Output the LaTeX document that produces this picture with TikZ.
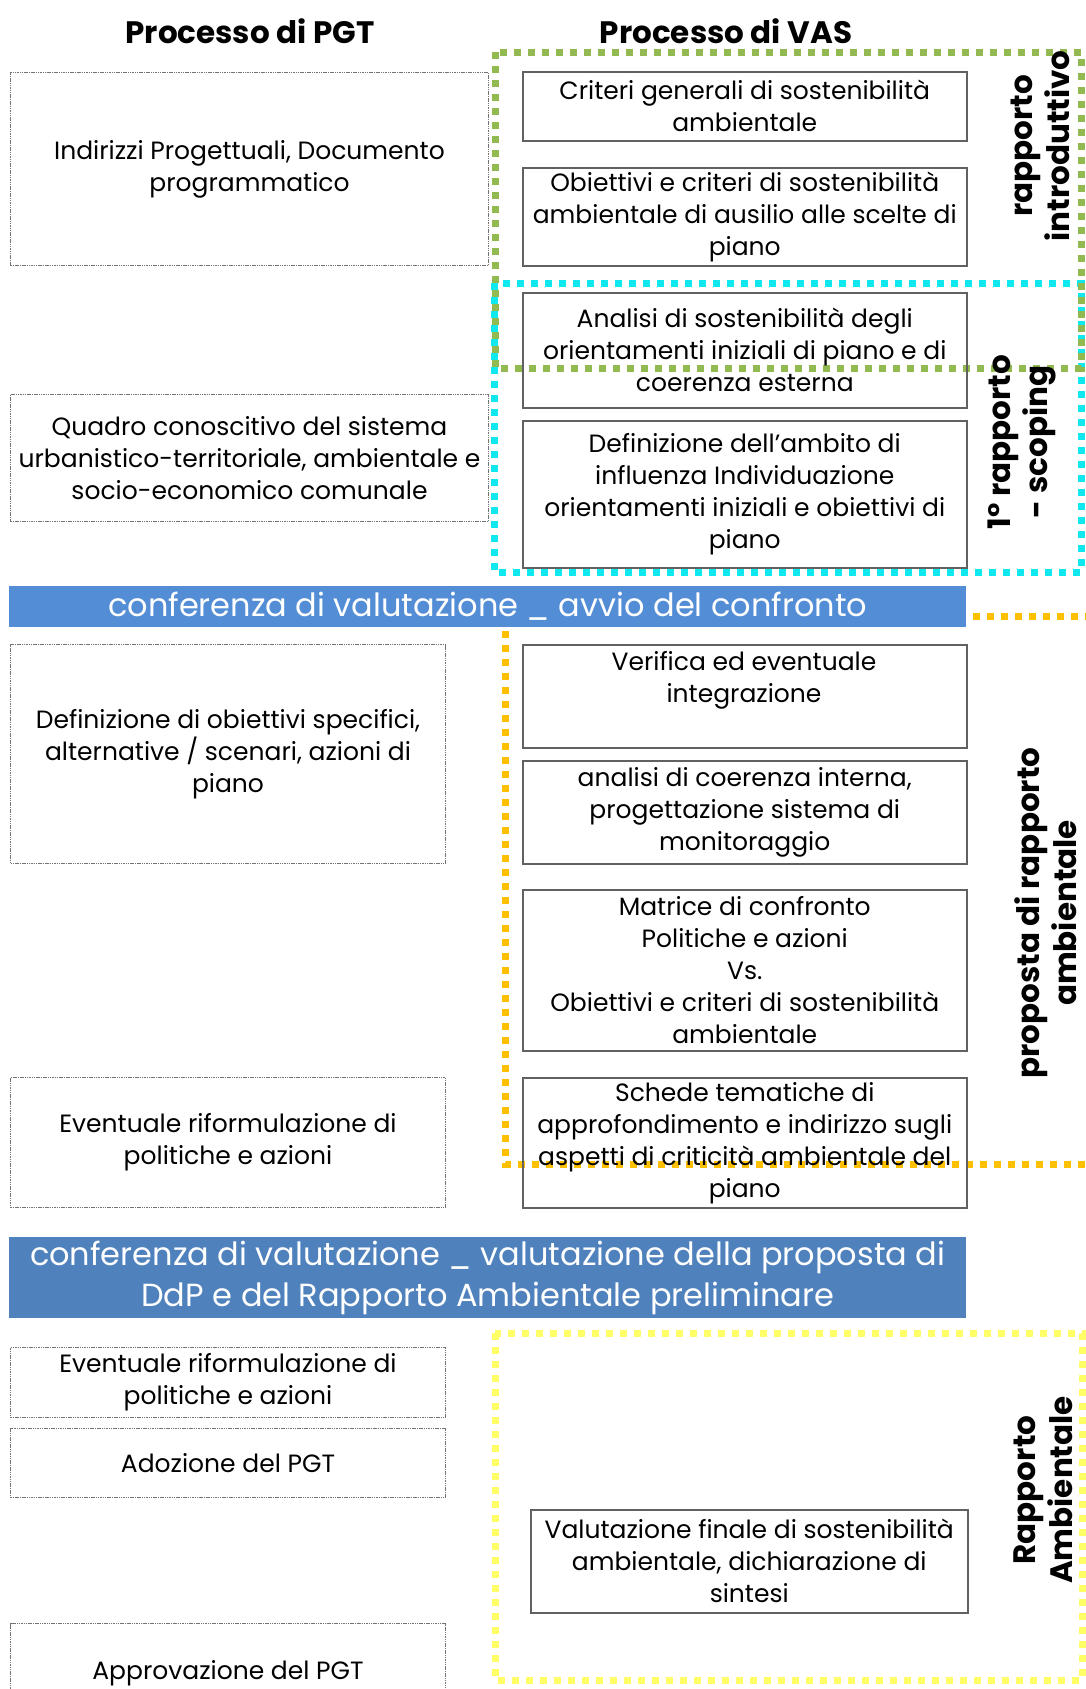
\documentclass[tikz,border=0pt]{standalone}
\usepackage{fontspec}
\setmainfont{Poppins}
\definecolor{grn}{HTML}{92BA50}
\definecolor{cyn}{HTML}{10E8F0}
\definecolor{org}{HTML}{FFC000}
\definecolor{ylw}{HTML}{FFFF66}
\definecolor{blueA}{HTML}{538DD5}
\definecolor{blueB}{HTML}{4F81BD}
\begin{document}
\begin{tikzpicture}[x=1pt,y=-1pt,
  txt/.style={align=center, font=\fontsize{25}{32}\selectfont, inner sep=0pt},
  lbox/.style={txt, draw=black!55, line width=1pt, dash pattern=on 1.5pt off 0.8pt, anchor=north west},
  rbox/.style={txt, draw=black!62, line width=1.5pt, anchor=north west},
  frameline/.style={line width=7pt, dash pattern=on 7pt off 7pt, line cap=butt},
  bar/.style={anchor=north west, inner sep=0pt, text=white, align=center, font=\fontsize{32}{41}\selectfont},
  ttl/.style={font=\fontsize{31}{36}\selectfont\bfseries},
  vlab/.style={rotate=90, align=center, font=\fontsize{31}{37}\selectfont\bfseries}]
\useasboundingbox (0,0) rectangle (1086,1689);
\clip (0,0) rectangle (1086,1689);
\fill[white] (0,0) rectangle (1086,1689);

% dashed frames
\draw[frameline, cyn] (494,283) rectangle (1081,572);
\draw[frameline, grn] (495,52) rectangle (1081,368);
\draw[frameline, org] (1120,616) -- (505,616) -- (505,1164) -- (1120,1164);
\draw[frameline, ylw] (495,1333) rectangle (1082,1680);

% titles
\node[ttl] (T1) at (250,31) {Processo di PGT};
\node[ttl] (T2) at (726,31) {Processo di VAS};

% left column
\node[lbox, minimum width=478pt, minimum height=193pt] (L1) at (10,72) {Indirizzi Progettuali, Documento\\programmatico};
\node[lbox, minimum width=478pt, minimum height=127pt] (L2) at (10,394) {Quadro conoscitivo del sistema\\urbanistico-territoriale, ambientale e\\socio-economico comunale};
\node[lbox, minimum width=435pt, minimum height=219pt] (L3) at (10,644) {Definizione di obiettivi specifici,\\alternative / scenari, azioni di\\piano};
\node[lbox, minimum width=435pt, minimum height=130pt] (L4) at (10,1077) {Eventuale riformulazione di\\politiche e azioni};
\node[lbox, minimum width=435pt, minimum height=70pt] (L5) at (10,1347) {Eventuale riformulazione di\\politiche e azioni};
\node[lbox, minimum width=435pt, minimum height=69pt] (L6) at (10,1428) {Adozione del PGT};
\node[lbox, minimum width=435pt, minimum height=99pt] (L7) at (10,1623) {Approvazione del PGT};

% right column
\node[rbox, minimum width=444pt, minimum height=69pt] (R1) at (522,71) {Criteri generali di sostenibilità\\ambientale};
\node[rbox, minimum width=444pt, minimum height=98pt] (R2) at (522,167) {Obiettivi e criteri di sostenibilità\\ambientale di ausilio alle scelte di\\piano};
\node[rbox, minimum width=444pt, minimum height=115pt] (R3) at (522,292) {Analisi di sostenibilità degli\\orientamenti iniziali di piano e di\\coerenza esterna};
\node[rbox, minimum width=444pt, minimum height=147pt] (R4) at (522,420) {Definizione dell’ambito di\\influenza Individuazione\\orientamenti iniziali e obiettivi di\\piano};
\node[rbox, minimum width=444pt, minimum height=103pt] (R5) at (522,644) {};
\node[txt] (R5t) at (744,680) {Verifica ed eventuale\\integrazione};
\node[rbox, minimum width=444pt, minimum height=103pt] (R6) at (522,760) {analisi di coerenza interna,\\progettazione sistema di\\monitoraggio};
\node[rbox, minimum width=444pt, minimum height=161pt] (R7) at (522,889) {Matrice di confronto\\Politiche e azioni\\Vs.\\Obiettivi e criteri di sostenibilità\\ambientale};
\node[rbox, minimum width=444pt, minimum height=130pt] (R8) at (522,1077) {Schede tematiche di\\approfondimento e indirizzo sugli\\aspetti di criticità ambientale del\\piano};
\node[rbox, minimum width=437pt, minimum height=103pt] (R9) at (530,1509) {Valutazione finale di sostenibilità\\ambientale, dichiarazione di\\sintesi};

% blue bars
\node[bar, fill=blueA, minimum width=957pt, minimum height=41pt] (B1) at (9,586) {conferenza di valutazione \_ avvio del confronto};
\node[bar, fill=blueB, minimum width=957pt, minimum height=81pt] (B2) at (9,1237) {conferenza di valutazione \_ valutazione della proposta di\\DdP e del Rapporto Ambientale preliminare};

% vertical labels
\node[vlab] (V1) at (1040,146) {rapporto\\introduttivo};
\node[vlab] (V2) at (1022,442) {1° rapporto\\- scoping};
\node[vlab] (V3) at (1046,913) {proposta di rapporto\\ambientale};
\node[vlab] (V4) at (1043,1490) {Rapporto\\Ambientale};
\end{tikzpicture}
\end{document}
